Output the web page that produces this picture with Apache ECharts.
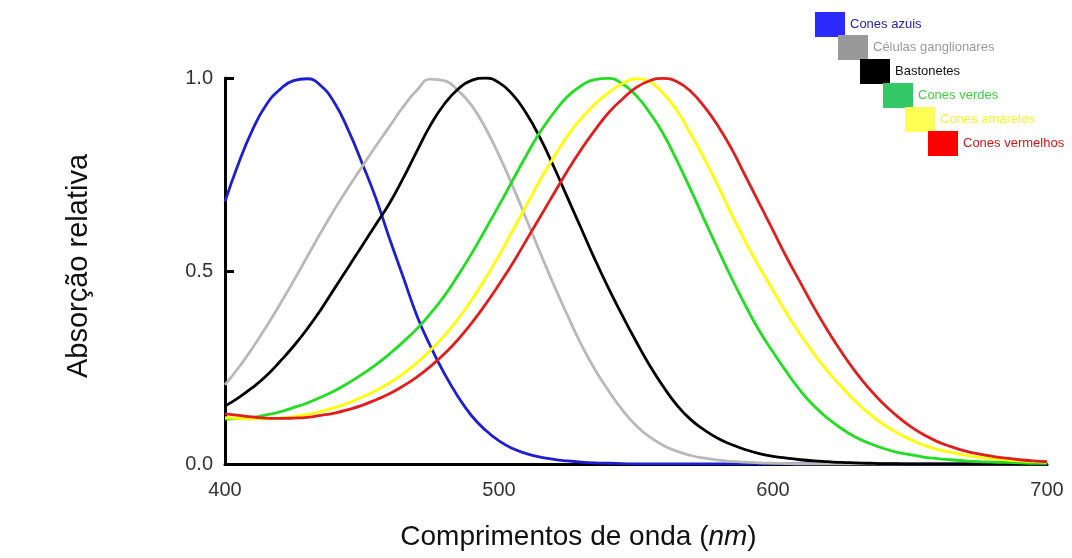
<!DOCTYPE html>
<html>

<head>
    <meta charset="utf-8">
    <script src="https://cdn.jsdelivr.net/npm/echarts@6/dist/echarts.min.js"></script>
</head>
<body style="margin:0; background:#fff;">
<div id="main" style="width: 1072px; height:558px"></div>
<script type="text/javascript">

    // comprimentos de onda (nm), de 5 em 5
    var wavelengths = [400, 405, 410, 415, 420, 425, 430, 435, 440, 445,
        450, 455, 460, 465, 470, 475, 480, 485, 490, 495,
        500, 505, 510, 515, 520, 525, 530, 535, 540, 545,
        550, 555, 560, 565, 570, 575, 580, 585, 590, 595,
        600, 605, 610, 615, 620, 625, 630, 635, 640, 645,
        650, 655, 660, 665, 670, 675, 680, 685, 690, 695,
        700];

    var conesAzuis = [0.68, 0.78, 0.865, 0.93, 0.97, 0.993, 0.998, 0.98, 0.935, 0.865,
        0.78, 0.69, 0.585, 0.485, 0.385, 0.305, 0.235, 0.175, 0.125, 0.088,
        0.06, 0.04, 0.027, 0.018, 0.012, 0.008, 0.005, 0.003, 0.002, 0.001,
        0, 0, 0, 0, 0, 0, 0, 0, 0, 0,
        0, 0, 0, 0, 0, 0, 0, 0, 0, 0,
        0, 0, 0, 0, 0, 0, 0, 0, 0, 0,
        0];
    var celulasGanglionares = [0.205, 0.25, 0.30, 0.355, 0.413, 0.474, 0.537, 0.60, 0.66, 0.716,
        0.77, 0.823, 0.874, 0.925, 0.968, 0.997, 0.993, 0.968, 0.929, 0.871,
        0.80, 0.72, 0.634, 0.548, 0.464, 0.385, 0.31, 0.245, 0.19, 0.14,
        0.10, 0.07, 0.048, 0.033, 0.022, 0.015, 0.01, 0.007, 0.005, 0.003,
        0.002, 0.001, 0, 0, 0, 0, 0, 0, 0, 0,
        0, 0, 0, 0, 0, 0, 0, 0, 0, 0,
        0];
    var bastonetes = [0.15, 0.172, 0.198, 0.228, 0.265, 0.305, 0.35, 0.40, 0.455, 0.51,
        0.565, 0.62, 0.675, 0.74, 0.81, 0.878, 0.932, 0.971, 0.994, 1.0,
        0.988, 0.957, 0.908, 0.845, 0.77, 0.69, 0.61, 0.53, 0.455, 0.385,
        0.318, 0.255, 0.20, 0.152, 0.115, 0.088, 0.066, 0.05, 0.037, 0.027,
        0.02, 0.015, 0.011, 0.008, 0.006, 0.004, 0.003, 0.002, 0.001, 0.001,
        0, 0, 0, 0, 0, 0, 0, 0, 0, 0,
        0];
    var conesVerdes = [0.116, 0.118, 0.121, 0.127, 0.135, 0.146, 0.158, 0.173, 0.19, 0.21,
        0.232, 0.257, 0.285, 0.316, 0.35, 0.39, 0.435, 0.488, 0.545, 0.607,
        0.67, 0.735, 0.80, 0.86, 0.91, 0.952, 0.98, 0.996, 0.999, 0.985,
        0.955, 0.91, 0.855, 0.785, 0.71, 0.632, 0.555, 0.48, 0.41, 0.345,
        0.29, 0.238, 0.19, 0.15, 0.118, 0.092, 0.07, 0.054, 0.041, 0.031,
        0.024, 0.018, 0.014, 0.011, 0.008, 0.006, 0.005, 0.004, 0.003, 0.002,
        0.002];
    var conesAmarelos = [0.12, 0.118, 0.117, 0.117, 0.119, 0.123, 0.128, 0.136, 0.146, 0.158,
        0.173, 0.19, 0.21, 0.234, 0.262, 0.295, 0.332, 0.375, 0.425, 0.48,
        0.54, 0.605, 0.67, 0.735, 0.795, 0.85, 0.895, 0.932, 0.962, 0.985,
        0.998, 0.99, 0.96, 0.915, 0.855, 0.79, 0.72, 0.645, 0.575, 0.51,
        0.45, 0.39, 0.335, 0.285, 0.24, 0.20, 0.163, 0.131, 0.104, 0.082,
        0.064, 0.049, 0.038, 0.03, 0.023, 0.018, 0.014, 0.011, 0.008, 0.006,
        0.005];
    var conesVermelhos = [0.13, 0.126, 0.122, 0.119, 0.118, 0.119, 0.121, 0.126, 0.132, 0.141,
        0.152, 0.166, 0.182, 0.202, 0.225, 0.253, 0.285, 0.322, 0.365, 0.413,
        0.465, 0.52, 0.58, 0.64, 0.70, 0.76, 0.815, 0.865, 0.91, 0.945,
        0.975, 0.993, 0.999, 0.99, 0.965, 0.925, 0.875, 0.815, 0.745, 0.675,
        0.605, 0.535, 0.47, 0.405, 0.345, 0.29, 0.24, 0.196, 0.158, 0.126,
        0.098, 0.076, 0.058, 0.045, 0.034, 0.026, 0.02, 0.015, 0.011, 0.008,
        0.006];

    var fonte = '"Liberation Sans", Arial, sans-serif';

    function pares(ys) {
        return wavelengths.map(function (x, i) { return [x, ys[i]]; });
    }

    function linha(nome, ys, cor) {
        return {
            name: nome, type: 'line', data: pares(ys),
            smooth: true, symbol: 'none',
            itemStyle: {color: cor},
            lineStyle: {color: cor, width: 2.8}
        };
    }

    // legenda em escada: uma legenda por item
    function leg(nome, left, top, corQuadrado, corTexto) {
        return {
            left: left, top: top, icon: 'rect', itemWidth: 30, itemHeight: 25,
            selectedMode: false, padding: 0,
            itemStyle: {borderWidth: 0},
            textStyle: {fontFamily: fonte, fontSize: 13},
            data: [{name: nome, itemStyle: {color: corQuadrado, borderWidth: 0},
                textStyle: {color: corTexto, fontFamily: fonte, fontSize: 13}}]
        };
    }

    var myChart = echarts.init(document.getElementById("main"));
    var option = {
        animation: false,
        backgroundColor: '#ffffff',
        grid: {left: 225, right: 25, top: 78, bottom: 94},
        legend: [
            leg('Cones azuis', 815, 12, '#2b2bff', '#2323b0'),
            leg('Células ganglionares', 838, 35, '#999999', '#9a9a9a'),
            leg('Bastonetes', 860, 59, '#000000', '#111111'),
            leg('Cones verdes', 883, 83, '#33c866', '#44cc44'),
            leg('Cones amarelos', 905, 107, '#ffff55', '#f4f430'),
            leg('Cones vermelhos', 928, 131, '#ff0000', '#d01818')
        ],
        xAxis: {
            type: 'value', min: 400, max: 700, interval: 100,
            name: 'Comprimentos de onda ({i|nm})',
            nameLocation: 'middle', nameGap: 59,
            nameTextStyle: {
                fontFamily: fonte, fontSize: 28, color: '#111',
                padding: [0, 115, 0, 0],
                rich: {i: {fontStyle: 'italic', fontFamily: fonte, fontSize: 28, color: '#111'}}
            },
            axisLine: {lineStyle: {color: '#000', width: 3}},
            axisTick: {show: false},
            splitLine: {show: false},
            axisLabel: {margin: 16, fontFamily: fonte, fontSize: 20, color: '#333'}
        },
        yAxis: {
            type: 'value', min: 0, max: 1, interval: 0.5,
            name: 'Absorção relativa',
            nameLocation: 'middle', nameGap: 132, nameRotate: 90,
            nameTextStyle: {fontFamily: fonte, fontSize: 29, color: '#111', padding: [0, 0, 0, 10]},
            axisLine: {show: true, lineStyle: {color: '#000', width: 3}},
            axisTick: {show: true, inside: true, length: 9, lineStyle: {color: '#000', width: 3}},
            splitLine: {show: false},
            axisLabel: {
                margin: 12, fontFamily: fonte, fontSize: 20, color: '#333',
                formatter: function (v) { return v.toFixed(1); }
            }
        },
        series: [
            linha('Cones azuis', conesAzuis, '#1e1ed2'),
            linha('Células ganglionares', celulasGanglionares, '#b9b9b9'),
            linha('Bastonetes', bastonetes, '#000000'),
            linha('Cones verdes', conesVerdes, '#22dd22'),
            linha('Cones amarelos', conesAmarelos, '#ffff00'),
            linha('Cones vermelhos', conesVermelhos, '#e01e1e')
        ]
    };
    myChart.setOption(option);
</script>
</body>

</html>
